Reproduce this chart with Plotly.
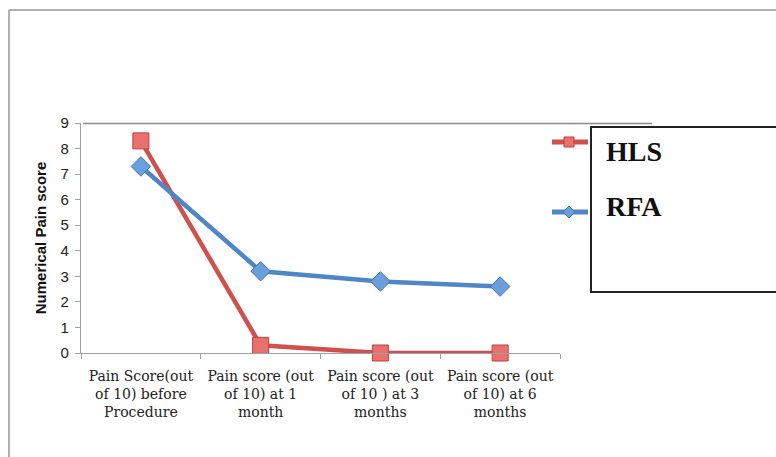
import plotly.graph_objects as go

categories = [
    "Pain Score(out<br>of 10) before<br>Procedure",
    "Pain score (out<br>of 10) at 1<br>month",
    "Pain score (out<br>of 10 ) at 3<br>months",
    "Pain score (out<br>of 10) at 6<br>months",
]
hls = [8.3, 0.3, 0.0, 0.0]
rfa = [7.3, 3.2, 2.8, 2.6]
y_ticks = [0, 1, 2, 3, 4, 5, 6, 7, 8, 9]
series_names = ["HLS", "RFA"]

RED = "#D0504D"
RED_FILL = "#E8716D"
BLUE = "#4F86C6"
BLUE_FILL = "#6A9FDA"

W, H = 776, 457
L, R, T, B = 81, 560, 123, 353  # plot area in pixels


def px(x):
    return (x - L) / (R - L)


def py(y):
    return (B - y) / (B - T)


fig = go.Figure()
fig.add_trace(go.Scatter(
    x=categories, y=hls, mode="lines+markers", name="HLS",
    line=dict(color=RED, width=4.5),
    marker=dict(symbol="square", size=16, color=RED_FILL, line=dict(color="#C0403D", width=1)),
    cliponaxis=False, showlegend=False,
))
fig.add_trace(go.Scatter(
    x=categories, y=rfa, mode="lines+markers", name="RFA",
    line=dict(color=BLUE, width=4.5),
    marker=dict(symbol="diamond", size=15, color=BLUE_FILL, line=dict(color="#3F76B6", width=1)),
    cliponaxis=False, showlegend=False,
))


def hline(x0, x1, y, color, width):
    return dict(type="line", xref="paper", yref="paper", x0=px(x0), x1=px(x1),
                y0=py(y), y1=py(y), line=dict(color=color, width=width))


def vline(x, y0, y1, color, width):
    return dict(type="line", xref="paper", yref="paper", x0=px(x), x1=px(x),
                y0=py(y0), y1=py(y1), line=dict(color=color, width=width))


shapes = [
    # outer frame
    hline(9, 800, 10, "#B0B0B0", 2),
    vline(9, 10, 480, "#B0B0B0", 2),
    # top line at 9
    hline(83, 652, 123.5, "#8A8A8A", 1.3),
    # legend box (open to the right, cut by the image edge)
    hline(590, 800, 127, "#222222", 2),
    hline(590, 800, 292, "#222222", 2),
    vline(591, 127, 292, "#222222", 2),
]

# legend glyphs (outside the box, to its left)
leg_y = [142, 212]
for (lc, fc, kind), yy in zip([(RED, RED_FILL, "sq"), (BLUE, BLUE_FILL, "dia")], leg_y):
    shapes.append(hline(552, 588, yy, lc, 5))
    cx = 569
    if kind == "sq":
        shapes.append(dict(type="rect", xref="paper", yref="paper",
                           x0=px(cx - 5), x1=px(cx + 5), y0=py(yy - 5), y1=py(yy + 5),
                           line=dict(color="#C0403D", width=1), fillcolor=fc))
    else:
        path = "M {} {} L {} {} L {} {} L {} {} Z".format(
            px(cx), py(yy - 6), px(cx + 6), py(yy), px(cx), py(yy + 6), px(cx - 6), py(yy))
        shapes.append(dict(type="path", xref="paper", yref="paper", path=path,
                           line=dict(color="#3F76B6", width=1), fillcolor=fc))

annotations = [
    dict(text="<b>" + n + "</b>", xref="paper", yref="paper", x=px(604), y=py(yy),
         xanchor="left", yanchor="middle",
         showarrow=False, font=dict(family="Liberation Serif", size=28, color="#111111"))
    for n, yy in zip(series_names, [151, 206])
]

fig.update_layout(
    width=W, height=H,
    margin=dict(l=L, r=W - R, t=T, b=H - B, pad=0),
    paper_bgcolor="white", plot_bgcolor="white",
    showlegend=False,
    shapes=shapes, annotations=annotations,
    xaxis=dict(
        type="category", range=[-0.5, 3.5], tickson="boundaries",
        showline=True, linecolor="#A0A0A0", linewidth=1.3,
        ticks="outside", ticklen=5, tickcolor="#A0A0A0",
        showgrid=False, zeroline=False, ticklabelstandoff=10,
        tickfont=dict(family="DejaVu Serif", size=14, color="#222222"),
    ),
    yaxis=dict(
        range=[0, 9], tickvals=y_ticks,
        showline=True, linecolor="#A0A0A0", linewidth=1.3,
        ticks="outside", ticklen=5, tickcolor="#A0A0A0",
        showgrid=False, zeroline=False, ticklabelstandoff=3,
        tickfont=dict(family="Liberation Sans", size=15, color="#222222"),
        title=dict(text="<b>Numerical Pain score</b>", standoff=10,
                   font=dict(family="Liberation Sans", size=15, color="#111111")),
    ),
)

fig.write_html(
    "out.html",
    config={"displayModeBar": False},
    post_script="document.body.style.margin='0';document.body.style.overflow='hidden';",
)
